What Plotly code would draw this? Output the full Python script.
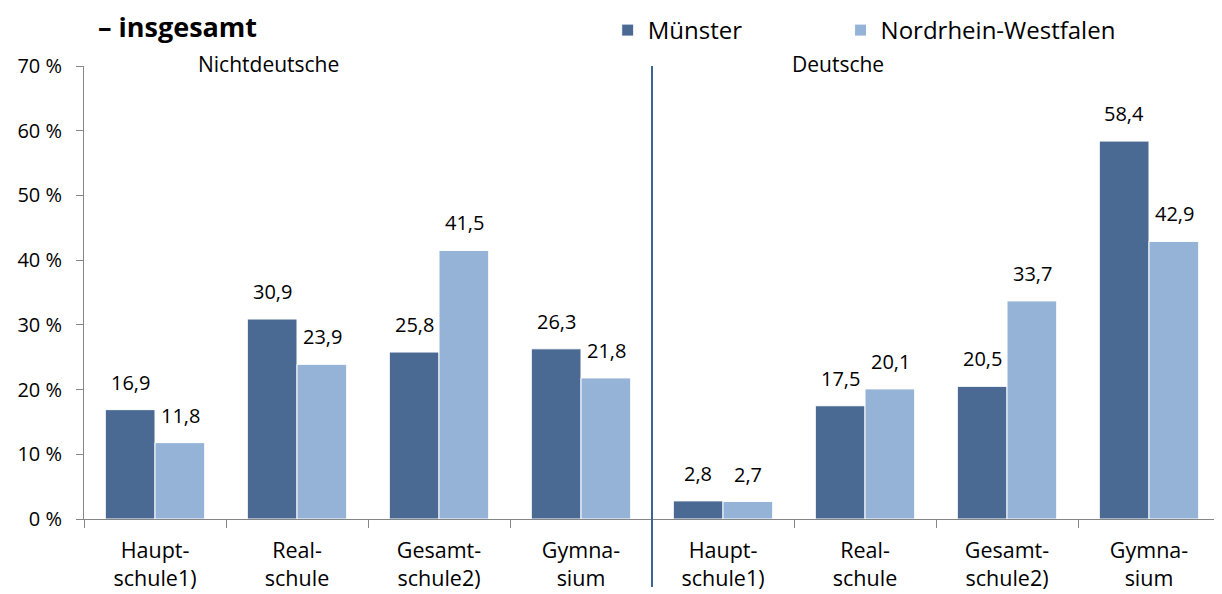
import plotly.graph_objects as go

# ---------- data ----------
kategorien = ["N_HS", "N_RS", "N_GE", "N_GY", "D_HS", "D_RS", "D_GE", "D_GY"]
beschriftung = [
    "Haupt-<br>schule1)", "Real-<br>schule", "Gesamt-<br>schule2)", "Gymna-<br>sium",
    "Haupt-<br>schule1)", "Real-<br>schule", "Gesamt-<br>schule2)", "Gymna-<br>sium",
]
muenster = [16.9, 30.9, 25.8, 26.3, 2.8, 17.5, 20.5, 58.4]
nrw = [11.8, 23.9, 41.5, 21.8, 2.7, 20.1, 33.7, 42.9]

FONT = "Open Sans"
C_MS = "#4a6a94"
C_NRW = "#95b3d7"


def de(v):
    return f"{v:.1f}".replace(".", ",")


fig = go.Figure()
fig.add_bar(x=kategorien, y=muenster, name="Münster", legend="legend", showlegend=True,
            marker=dict(color=C_MS, line=dict(color="white", width=1)))
fig.add_bar(x=kategorien, y=nrw, name="Nordrhein-Westfalen", legend="legend2", showlegend=True,
            marker=dict(color=C_NRW, line=dict(color="white", width=1)))

# Datenbeschriftungen
for k, a, b in zip(kategorien, muenster, nrw):
    for val, dx in ((a, -25), (b, 25)):
        fig.add_annotation(x=k, y=val, text=de(val), showarrow=False,
                           xshift=dx, yshift=12, yanchor="bottom",
                           font=dict(size=20, color="black", family=FONT))

# Gruppentitel
fig.add_annotation(x=0.162, y=1.004, xref="paper", yref="paper", text="Nichtdeutsche",
                   showarrow=False, xanchor="center", yanchor="middle",
                   font=dict(size=21, color="black", family=FONT))
fig.add_annotation(x=0.664, y=1.004, xref="paper", yref="paper", text="Deutsche",
                   showarrow=False, xanchor="center", yanchor="middle",
                   font=dict(size=21, color="black", family=FONT))

# Titel
fig.add_annotation(x=0.011, y=1.087, xref="paper", yref="paper", text="<b>– insgesamt</b>",
                   showarrow=False, xanchor="left", yanchor="middle",
                   font=dict(size=27, color="black", family=FONT))

# Trennlinie
fig.add_shape(type="line", xref="paper", yref="paper", x0=0.5, x1=0.5, y0=-0.15, y1=1.0,
              line=dict(color="#3a6596", width=2))

leg = dict(orientation="h", yref="container", y=1.0, xanchor="left", yanchor="top",
           visible=True, font=dict(size=24, family=FONT))

fig.update_layout(
    width=1214, height=586,
    margin=dict(l=76, r=2, t=58, b=75),
    paper_bgcolor="white", plot_bgcolor="white",
    barmode="group", bargap=0.3, bargroupgap=0,
    font=dict(family=FONT, size=20, color="black"),
    showlegend=True,
    legend=dict(leg, x=0.461),
    legend2=dict(leg, x=0.666),
    xaxis=dict(tickmode="array", tickvals=kategorien, ticktext=beschriftung,
               tickson="boundaries", ticks="outside", ticklen=8, tickcolor="#868686",
               showline=True, linecolor="#868686", linewidth=1, showgrid=False,
               automargin=False, ticklabelstandoff=12, tickfont=dict(size=21.5)),
    yaxis=dict(range=[0, 70], dtick=10, ticksuffix=" %", ticks="outside", ticklen=7,
               tickcolor="#868686", showline=True, linecolor="#868686", linewidth=1,
               showgrid=False, zeroline=False, automargin=False,
               ticklabelstandoff=10, tickfont=dict(size=20)),
)

fig.write_html("out.html")
